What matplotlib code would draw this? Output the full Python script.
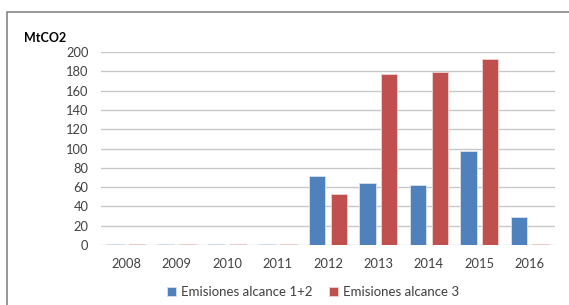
import matplotlib
matplotlib.use("Agg")
import matplotlib.pyplot as plt
import numpy as np
from matplotlib.patches import Rectangle

years = ["2008", "2009", "2010", "2011", "2012", "2013", "2014", "2015", "2016"]
alcance12 = [0.8, 0.8, 0.8, 1.5, 71.5, 64, 62, 97, 29]
alcance3 = [0.8, 0.8, 0.8, 0.8, 53, 177, 179, 193, 0.8]
yticks = [0, 20, 40, 60, 80, 100, 120, 140, 160, 180, 200]

plt.rcParams['font.family'] = ['Lato', 'DejaVu Sans']

W, H = 569, 305
fig = plt.figure(figsize=(W / 100, H / 100), dpi=100)
fig.patch.set_facecolor("white")

# outer frame (extends beyond right/bottom edges)
fig.patches.append(Rectangle((7 / W, -0.1), 1.2, (H - 12) / H + 0.1, transform=fig.transFigure,
                             fill=False, edgecolor="#868686", linewidth=1.2))

ax = fig.add_axes([101 / W, (H - 245) / H, (555 - 101) / W, (245 - 52) / H])
x = np.arange(len(years))
bw = 0.325
off = 0.215
ax.bar(x - off, alcance12, bw, color="#4F81BD", edgecolor="#dbe4f0", linewidth=0.6,
       label="Emisiones alcance 1+2", zorder=3)
ax.bar(x + off, alcance3, bw, color="#C0504D", edgecolor="#efd5d4", linewidth=0.6,
       label="Emisiones alcance 3", zorder=3)

ax.set_xlim(-0.5, len(years) - 0.5)
ax.set_ylim(0, 200)
ax.set_yticks(yticks)
ax.set_yticklabels([str(v) for v in yticks], fontsize=9.3, color="#404040")
ax.set_xticks(x)
ax.set_xticklabels(years, fontsize=9.3, color="#404040")
ax.tick_params(axis='both', length=0)
ax.tick_params(axis='y', pad=9)
ax.tick_params(axis='x', pad=9)
ax.yaxis.grid(True, color="#c8c8c8", linewidth=1.0, zorder=0)
ax.set_axisbelow(True)
for s in ax.spines.values():
    s.set_visible(False)

fig.text(24 / W, 1 - 38 / H, "MtCO2", fontsize=9, fontweight="bold", va="center", ha="left", color="black")

leg = fig.legend(loc="center", bbox_to_anchor=(313 / W, 1 - 292 / H), ncol=2, frameon=False,
                 fontsize=9.5, handlelength=0.7, handleheight=0.7, columnspacing=1.2, handletextpad=0.4)
for t in leg.get_texts():
    t.set_color("#404040")

fig.savefig("out.png", dpi=100, facecolor="white")
